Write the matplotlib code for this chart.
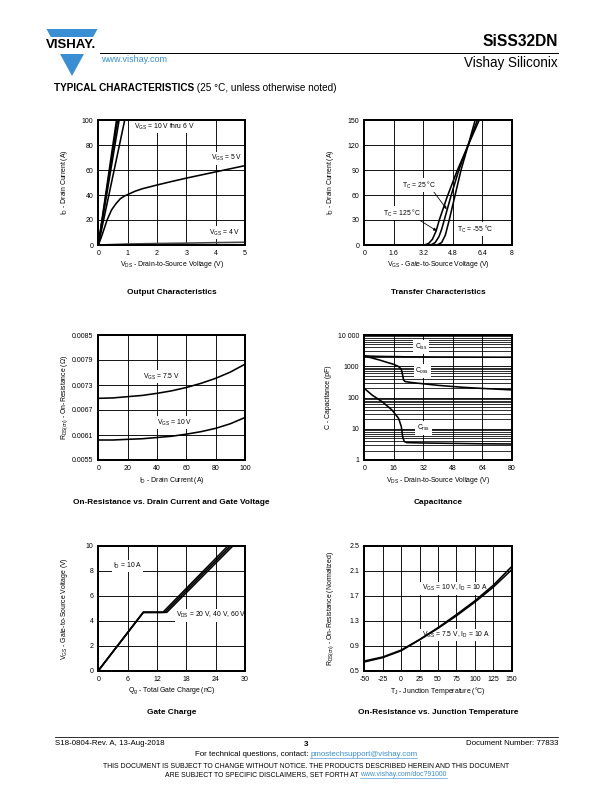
import numpy as np
import matplotlib
matplotlib.use('Agg')
import matplotlib.pyplot as plt
from matplotlib.patches import Polygon, Rectangle
from matplotlib.lines import Line2D

plt.rcParams['font.family'] = ['Liberation Sans', 'DejaVu Sans']
plt.rcParams['mathtext.fontset'] = 'custom'
plt.rcParams['mathtext.rm'] = 'Liberation Sans'
plt.rcParams['mathtext.it'] = 'Liberation Sans:italic'
plt.rcParams['mathtext.bf'] = 'Liberation Sans:bold'
plt.rcParams['axes.unicode_minus'] = False

# ---------------- data ----------------
# Output characteristics
out_vds_lin = [0, 1]
out_id_10v = [0, 161]
out_id_8v = [0, 152]
out_id_7v = [0, 141]
out_id_6v = [0, 111]
out_vds_5v = [0, 0.1, 0.2, 0.3, 0.45, 0.6, 0.75, 0.9, 1.0, 1.25, 1.5, 2.0, 2.5, 3.0, 3.5, 4.0, 4.5, 5.0]
out_id_5v = [0, 6, 13, 20, 28, 33, 37, 39.3, 40.3, 43, 45, 48, 50.8, 53.5, 56, 58.5, 61, 63.5]
out_vds_4v = [0, 1, 2, 3, 4, 5]
out_id_4v = [0, 0.8, 1.2, 1.5, 1.9, 2.2]

# Transfer characteristics
tr_vgs_125 = [0, 3.0, 3.3, 3.5, 3.7, 3.9, 4.07, 4.5, 5.02, 5.64, 6.24]
tr_id_125 = [0, 0, 0.3, 2, 7, 17, 30, 58, 88, 120, 150]
tr_vgs_25 = [0, 3.4, 3.65, 3.85, 4.05, 4.2, 4.34, 4.72, 5.13, 5.64, 6.14]
tr_id_25 = [0, 0, 0.5, 3, 10, 19, 30, 60, 90, 120, 150]
tr_vgs_m55 = [0, 3.8, 4.0, 4.2, 4.4, 4.61, 4.93, 5.25, 5.64, 6.02]
tr_id_m55 = [0, 0, 0.5, 3, 12, 30, 60, 90, 120, 150]

# On-resistance vs drain current
rid_id = [0, 10, 20, 30, 40, 50, 60, 70, 80, 90, 100]
rid_75v = [0.00698, 0.00699, 0.00702, 0.00705, 0.0071, 0.00716, 0.00724, 0.00734, 0.00746, 0.00761, 0.00780]
rid_10v = [0.00598, 0.00598, 0.005996, 0.00601, 0.00604, 0.00607, 0.00612, 0.00618, 0.00626, 0.00637, 0.00652]

# Capacitance
cap_vds = [0, 4, 8, 12, 16, 18.6, 20.1, 20.8, 21.3, 22.2, 26, 33, 40, 53, 64, 72, 80]
cap_ciss = [2150, 2100, 2070, 2050, 2040, 2030, 2020, 2010, 2010, 2000, 2000, 1990, 1980, 1970, 1960, 1950, 1950]
cap_coss = [2130, 1850, 1600, 1350, 1150, 980, 800, 525, 363, 323, 300, 271, 245, 213, 195, 185, 175]
crss_vds = [0, 4.2, 9.6, 15, 18.6, 20.1, 20.8, 21.7, 23, 32, 48, 64, 80]
crss_val = [196, 120, 74, 40, 21.5, 11.7, 5.6, 3.9, 3.6, 3.5, 3.4, 3.3, 3.25]

# Gate charge
gc_qg_20 = [0, 9.2, 13.2, 26.5]
gc_qg_40 = [0, 9.2, 13.6, 27.0]
gc_qg_60 = [0, 9.2, 14.0, 27.5]
gc_vgs = [0, 4.68, 4.68, 10]

# On-resistance vs junction temperature
rt_tj = [-50, -25, 0, 25, 50, 75, 100, 125, 150]
rt_10v = [0.655, 0.72, 0.83, 1.0, 1.19, 1.40, 1.62, 1.87, 2.17]
rt_75v = [0.64, 0.71, 0.82, 0.995, 1.18, 1.38, 1.60, 1.84, 2.12]

# ---------------- figure ----------------
W, H = 612, 792
fig = plt.figure(figsize=(W / 72, H / 72), dpi=72)


def P(x, y):
    return (x / W, 1 - y / H)


TICK_FS = 7.0
LAB_FS = 6.9
ANN_FS = 6.8
TITLE_FS = 8.2
BB = dict(facecolor='white', edgecolor='none', pad=1.2)
TZ = 1.5  # labels above grid, below curves


def make_ax(l, t, r, b, xlim, ylim, xticks, yticks, xlabel, ylabel, ylab_x,
            title, title_y, logy=False, yticklabels=None, xticklabels=None):
    ax = fig.add_axes([l / W, 1 - b / H, (r - l) / W, (b - t) / H])
    if logy:
        ax.set_yscale('log')
    ax.set_xlim(*xlim)
    ax.set_ylim(*ylim)
    ax.set_xticks(xticks)
    if xticklabels is not None:
        ax.set_xticklabels(xticklabels)
    ax.set_yticks(yticks)
    if yticklabels is not None:
        ax.set_yticklabels(yticklabels)
    ax.tick_params(which='both', length=0, labelsize=TICK_FS, pad=5)
    ax.grid(True, which='major', color='black', lw=0.9)
    if logy:
        ax.grid(True, which='minor', axis='y', color='black', lw=0.8)
        ax.tick_params(which='minor', length=0)
        ax.yaxis.set_minor_formatter(matplotlib.ticker.NullFormatter())
    ax.set_axisbelow(True)
    for s in ax.spines.values():
        s.set_linewidth(2.0)
        s.set_color('black')
    cx = (l + r) / 2
    cy = (t + b) / 2
    fig.text(*P(cx, b + 20), xlabel, fontsize=LAB_FS, ha='center', va='center')
    fig.text(*P(ylab_x, cy), ylabel, fontsize=LAB_FS, ha='center', va='center', rotation=90)
    fig.text(*P(cx, title_y), title, fontsize=TITLE_FS, fontweight='bold', ha='center', va='center')
    return ax


def note(ax, x, y, s, **kw):
    kw.setdefault('va', 'center')
    ax.text(x, y, s, fontsize=ANN_FS, bbox=BB, zorder=TZ, **kw)


LW = 1.6

# 1. Output characteristics
ax1 = make_ax(98.3, 120, 245, 245, (0, 5), (0, 100), [0, 1, 2, 3, 4, 5],
              [0, 20, 40, 60, 80, 100],
              r'V$_{\rm DS}$ - Drain-to-Source Voltage (V)',
              r'I$_{\rm D}$ - Drain Current (A)', 65,
              'Output Characteristics', 292)
for ids in (out_id_10v, out_id_8v, out_id_7v, out_id_6v):
    ax1.plot(out_vds_lin, ids, color='black', lw=LW, clip_on=True)
ax1.plot(out_vds_5v, out_id_5v, color='black', lw=LW)
ax1.plot(out_vds_4v, out_id_4v, color='#444444', lw=LW)
note(ax1, 1.2, 94.7, r'V$_{\rm GS}$ = 10 V thru 6 V')
note(ax1, 3.83, 69.3, r'V$_{\rm GS}$ = 5 V')
note(ax1, 3.77, 9.9, r'V$_{\rm GS}$ = 4 V')

# 2. Transfer characteristics
ax2 = make_ax(364.3, 120, 511.7, 245, (0, 8), (0, 150), [0, 1.6, 3.2, 4.8, 6.4, 8],
              [0, 30, 60, 90, 120, 150],
              r'V$_{\rm GS}$ - Gate-to-Source Voltage (V)',
              r'I$_{\rm D}$ - Drain Current (A)', 330,
              'Transfer Characteristics', 292,
              xticklabels=['0', '1.6', '3.2', '4.8', '6.4', '8'])
ax2.plot(tr_vgs_125, tr_id_125, color='black', lw=LW)
ax2.plot(tr_vgs_25, tr_id_25, color='black', lw=LW)
ax2.plot(tr_vgs_m55, tr_id_m55, color='black', lw=LW)
arw = dict(arrowstyle='-|>', color='black', lw=0.8, mutation_scale=6, shrinkA=0, shrinkB=0)
ax2.annotate(r'T$_{\rm C}$ = 25 °C', xy=(4.47, 43), xytext=(2.05, 72), fontsize=ANN_FS,
             va='center', bbox=BB, zorder=TZ, arrowprops=dict(arw, relpos=(0.9, 0.0)))
ax2.annotate(r'T$_{\rm C}$ = 125 °C', xy=(3.93, 17), xytext=(1.0, 38.5), fontsize=ANN_FS,
             va='center', bbox=BB, zorder=TZ, arrowprops=dict(arw, relpos=(0.9, 0.0)))
note(ax2, 5.05, 19, r'T$_{\rm C}$ = -55 °C')

# 3. On-resistance vs drain current
ax3 = make_ax(98.3, 335, 245, 460, (0, 100), (0.0055, 0.0085), [0, 20, 40, 60, 80, 100],
              [0.0055, 0.0061, 0.0067, 0.0073, 0.0079, 0.0085],
              r'I$_{\rm D}$ - Drain Current (A)',
              r'R$_{\rm DS(on)}$ - On-Resistance (Ω)', 65,
              'On-Resistance vs. Drain Current and Gate Voltage', 502,
              yticklabels=['0.0055', '0.0061', '0.0067', '0.0073', '0.0079', '0.0085'])
ax3.plot(rid_id, rid_75v, color='black', lw=LW)
ax3.plot(rid_id, rid_10v, color='black', lw=LW)
note(ax3, 30.7, 0.0075, r'V$_{\rm GS}$ = 7.5 V')
note(ax3, 39.8, 0.0064, r'V$_{\rm GS}$ = 10 V')

# 4. Capacitance
ax4 = make_ax(364.3, 335, 511.7, 460, (0, 80), (1, 10000), [0, 16, 32, 48, 64, 80],
              [1, 10, 100, 1000, 10000],
              r'V$_{\rm DS}$ - Drain-to-Source Voltage (V)',
              r'C - Capacitance (pF)', 329,
              'Capacitance', 502, logy=True,
              yticklabels=['1', '10', '100', '1000', '10 000'])
ax4.plot(cap_vds, cap_ciss, color='black', lw=LW)
ax4.plot(cap_vds, cap_coss, color='black', lw=LW)
ax4.plot(crss_vds, crss_val, color='black', lw=LW)
bbc = dict(facecolor='white', edgecolor='none', pad=1.8)
ax4.text(31, 4100, r'C$_{\rm iss}$', fontsize=ANN_FS, ha='center', va='center', bbox=bbc, zorder=TZ)
ax4.text(31.5, 700, r'C$_{\rm oss}$', fontsize=ANN_FS, ha='center', va='center', bbox=bbc, zorder=TZ)
ax4.text(32, 10.5, r'C$_{\rm rss}$', fontsize=ANN_FS, ha='center', va='center', bbox=bbc, zorder=TZ)

# 5. Gate charge
ax5 = make_ax(98.3, 546, 245, 670.7, (0, 30), (0, 10), [0, 6, 12, 18, 24, 30],
              [0, 2, 4, 6, 8, 10],
              r'Q$_{\rm g}$ - Total Gate Charge (nC)',
              r'V$_{\rm GS}$ - Gate-to-Source Voltage (V)', 65,
              'Gate Charge', 713)
for q in (gc_qg_20, gc_qg_40, gc_qg_60):
    ax5.plot(q, gc_vgs, color='black', lw=LW)
note(ax5, 3.0, 8.4, r'I$_{\rm D}$ = 10 A')
note(ax5, 15.9, 4.45, r'V$_{\rm DS}$ = 20 V, 40 V, 60 V')

# 6. On-resistance vs junction temperature
ax6 = make_ax(364.3, 546, 511.7, 670.7, (-50, 150), (0.5, 2.5),
              [-50, -25, 0, 25, 50, 75, 100, 125, 150],
              [0.5, 0.9, 1.3, 1.7, 2.1, 2.5],
              r'T$_{\rm J}$ - Junction Temperature (°C)',
              r'R$_{\rm DS(on)}$ - On-Resistance (Normalized)', 331,
              'On-Resistance vs. Junction Temperature', 713)
ax6.plot(rt_tj, rt_10v, color='black', lw=LW)
ax6.plot(rt_tj, rt_75v, color='black', lw=LW)
note(ax6, 27.8, 1.82, r'V$_{\rm GS}$ = 10 V, I$_{\rm D}$ = 10 A')
note(ax6, 27.8, 1.07, r'V$_{\rm GS}$ = 7.5 V, I$_{\rm D}$ = 10 A')

# ---------------- header ----------------
blue = '#3a8ed3'
tri = Polygon([P(46.5, 29), P(97.5, 29), P(72, 76)], closed=True, transform=fig.transFigure,
              facecolor=blue, edgecolor='none')
fig.patches.append(tri)
band = Rectangle(P(40, 54), 65 / W, 17.5 / H, transform=fig.transFigure,
                 facecolor='white', edgecolor='none')
fig.patches.append(band)
fig.text(*P(71.5, 45.5), 'VISHAY.', fontsize=13.3, fontweight='bold', ha='center', va='center')
fig.lines.append(Line2D([100 / W, 558 / W], [1 - 52.5 / H, 1 - 52.5 / H],
                        transform=fig.transFigure, color='black', lw=1.0))
fig.text(*P(558, 41), 'SiSS32DN', fontsize=15.5, fontweight='bold', ha='right', va='center')
fig.text(*P(558, 62.5), 'Vishay Siliconix', fontsize=13.5, ha='right', va='center')
fig.text(*P(101, 59.5), 'www.vishay.com', fontsize=9.0, ha='left', va='center', color=blue)

renderer = fig.canvas.get_renderer()


def run(x, y, parts, align='left', fs=8):
    objs = []
    for txt, color, weight, ul in parts:
        t = fig.text(0, 0, txt, fontsize=fs, color=color, fontweight=weight,
                     ha='left', va='baseline')
        objs.append((t, ul, color))
    widths = [o[0].get_window_extent(renderer).width for o in objs]
    total = sum(widths)
    if align == 'center':
        x0 = x - total / 2
    else:
        x0 = x
    cur = x0
    for (t, ul, color), w in zip(objs, widths):
        t.set_position(P(cur, y))
        if ul:
            fig.lines.append(Line2D([cur / W, (cur + w) / W], [1 - (y + 1.5) / H] * 2,
                                    transform=fig.transFigure, color=color, lw=0.6))
        cur += w


run(54, 91, [('TYPICAL CHARACTERISTICS', 'black', 'bold', False),
             (' (25 °C, unless otherwise noted)', 'black', 'normal', False)], fs=10)

# ---------------- footer ----------------
fig.lines.append(Line2D([55 / W, 558 / W], [1 - 737 / H] * 2,
                        transform=fig.transFigure, color='black', lw=0.8))
fig.text(*P(55, 745), 'S18-0804-Rev. A, 13-Aug-2018', fontsize=7.9, ha='left', va='baseline')
fig.text(*P(306, 745.5), '3', fontsize=8, fontweight='bold', ha='center', va='baseline')
fig.text(*P(558, 745), 'Document Number: 77833', fontsize=7.9, ha='right', va='baseline')
run(306, 756.5, [('For technical questions, contact: ', 'black', 'normal', False),
                 ('pmostechsupport@vishay.com', blue, 'normal', True)], align='center', fs=7.9)
fig.text(*P(306, 768.5), 'THIS DOCUMENT IS SUBJECT TO CHANGE WITHOUT NOTICE. THE PRODUCTS DESCRIBED HEREIN AND THIS DOCUMENT',
         fontsize=6.9, ha='center', va='baseline')
run(306, 776.5, [('ARE SUBJECT TO SPECIFIC DISCLAIMERS, SET FORTH AT ', 'black', 'normal', False),
                 ('www.vishay.com/doc?91000', blue, 'normal', True)], align='center', fs=6.9)

fig.savefig('out.png', dpi=72)
